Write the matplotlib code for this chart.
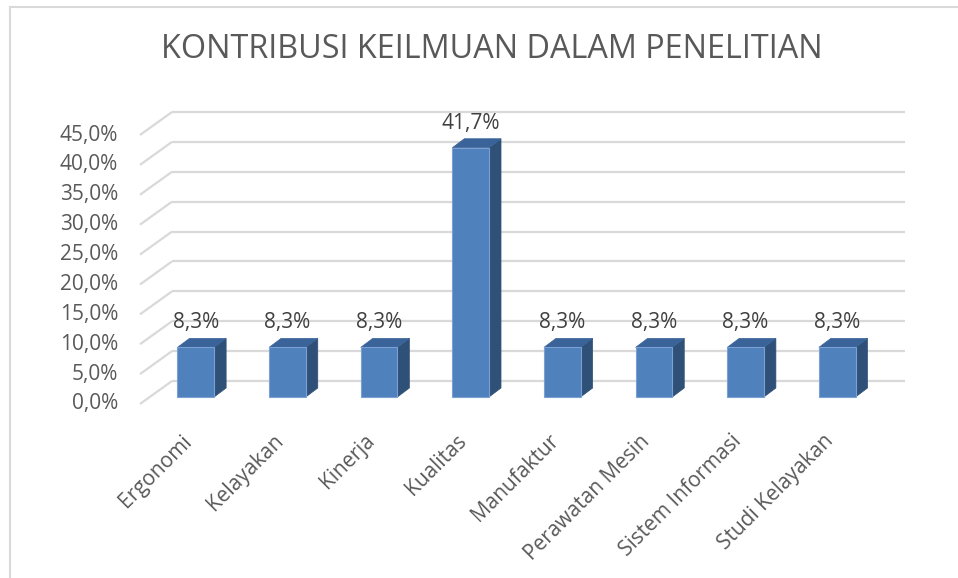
import matplotlib
matplotlib.use("Agg")
import matplotlib.pyplot as plt
from matplotlib.patches import Polygon
from matplotlib.lines import Line2D

plt.rcParams['font.family'] = ['Open Sans', 'DejaVu Sans']

# data
categories = ['Ergonomi', 'Kelayakan', 'Kinerja', 'Kualitas', 'Manufaktur',
              'Perawatan Mesin', 'Sistem Informasi', 'Studi Kelayakan']
values = [8.3, 8.3, 8.3, 41.7, 8.3, 8.3, 8.3, 8.3]
yticks = [0, 5, 10, 15, 20, 25, 30, 35, 40, 45]
title = 'KONTRIBUSI KEILMUAN DALAM PENELITIAN'

W, H = 958, 578
fig = plt.figure(figsize=(W / 100, H / 100), dpi=100)

# axes = plane of the bar front faces
ax_l, ax_r, ax_b, ax_t = 150, 883, 397, 128  # pixels
ax = fig.add_axes([ax_l / W, 1 - ax_b / H, (ax_r - ax_l) / W, (ax_b - ax_t) / H])
ax.set_xlim(-0.5, len(categories) - 0.5)
ax.set_ylim(0, 45)
ax.axis('off')

px_x = (ax_r - ax_l) / len(categories)   # pixels per category
px_y = (ax_b - ax_t) / 45.0              # pixels per percent

# depth offsets (pixels -> data units)
front_dx, front_dy = -10 / px_x, -7 / px_y
back_dx, back_dy = 22 / px_x, 16 / px_y
bar_dx, bar_dy = 12 / px_x, 9 / px_y

grid_c = '#d9d9d9'
fs = 15
x0 = -0.5
x1 = len(categories) - 0.5
for t in yticks:
    ax.plot([x0 + front_dx, x0 + back_dx], [t + front_dy, t + back_dy],
            color=grid_c, lw=1.6, clip_on=False, zorder=1, solid_capstyle='butt')
    ax.plot([x0 + back_dx, x1 + back_dx], [t + back_dy, t + back_dy],
            color=grid_c, lw=1.6, clip_on=False, zorder=1, solid_capstyle='butt')
    ax.annotate(f'{t:.1f}%'.replace('.', ','), xy=(x0 + front_dx, t + front_dy),
                xytext=(-22, 0), textcoords='offset pixels',
                ha='right', va='center', fontsize=fs, color='#595959',
                annotation_clip=False)

bw = 0.4
front_c, side_c, top_c = '#4f81bd', '#2f5077', '#3a6499'
for i, v in enumerate(values):
    l, r = i - bw / 2, i + bw / 2
    side = Polygon([(r, 0), (r + bar_dx, bar_dy), (r + bar_dx, v + bar_dy), (r, v)],
                   closed=True, facecolor=side_c, edgecolor=side_c, lw=0.5,
                   clip_on=False, zorder=3)
    top = Polygon([(l, v), (l + bar_dx, v + bar_dy), (r + bar_dx, v + bar_dy), (r, v)],
                  closed=True, facecolor=top_c, edgecolor=top_c, lw=0.5,
                  clip_on=False, zorder=3)
    ax.add_patch(side)
    ax.add_patch(top)
bars = ax.bar(range(len(values)), values, width=bw, color=front_c,
              edgecolor='#7aa0d4', linewidth=0.8, zorder=4, clip_on=False)

for i, v in enumerate(values):
    ax.annotate(f'{v:.1f}%'.replace('.', ','), xy=(i, v), xytext=(0, 19),
                textcoords='offset pixels', ha='center', va='baseline',
                fontsize=fs, color='#404040', annotation_clip=False)
    ax.annotate(categories[i], xy=(i + front_dx, front_dy), xytext=(3, -34),
                textcoords='offset pixels', ha='right', va='center',
                rotation=45, rotation_mode='anchor', fontsize=fs,
                color='#595959', annotation_clip=False)

fig.text(492 / W, 1 - 50 / H, title, ha='center', va='center', fontsize=23.3,
         color='#595959')

# chart border (top and left edges visible)
fig.add_artist(Line2D([10 / W, 10 / W], [0, 1 - 7 / H], color=grid_c, lw=1.5,
                      transform=fig.transFigure))
fig.add_artist(Line2D([10 / W, 1], [1 - 7 / H, 1 - 7 / H], color=grid_c, lw=1.5,
                      transform=fig.transFigure))

fig.savefig('out.png', dpi=100, facecolor='white')
